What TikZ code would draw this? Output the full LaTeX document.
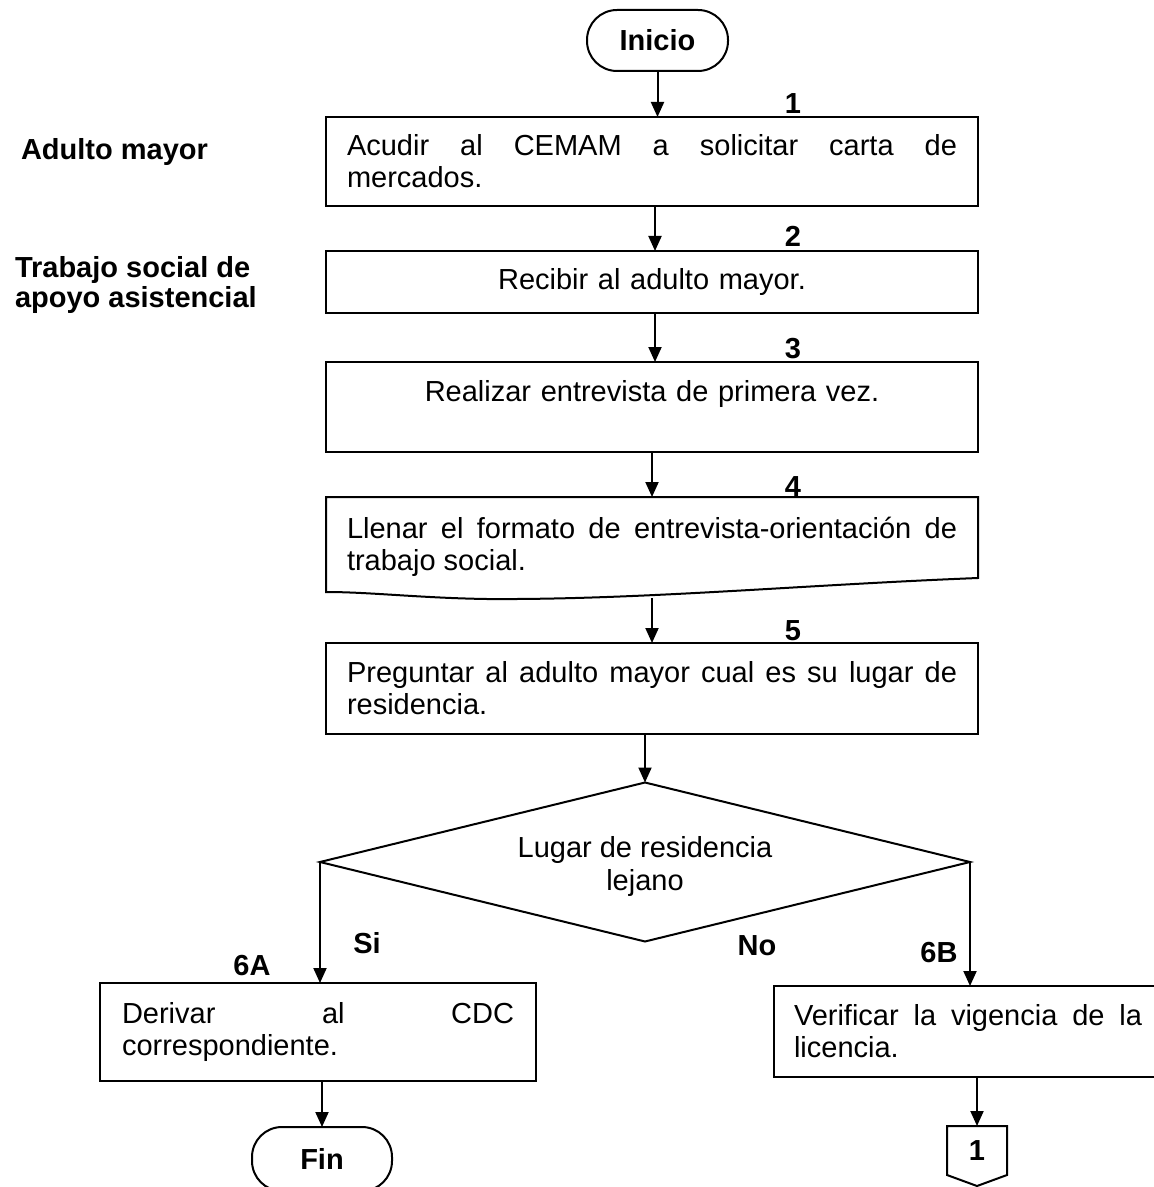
\documentclass[tikz,border=0pt]{standalone}
\usepackage{fontspec}
\setmainfont{Liberation Sans}
\usetikzlibrary{arrows.meta,shapes.geometric,calc}
\hyphenpenalty=10000
\exhyphenpenalty=10000
\begin{document}
\hyphenpenalty=10000
\exhyphenpenalty=10000
\begin{tikzpicture}[x=0.5pt,y=-0.5pt,
  every node/.style={inner sep=0pt, outer sep=0pt, font=\fontsize{14.5}{16}\selectfont},
  lab/.style={font=\fontsize{14.5}{15}\selectfont\bfseries},
  box/.style={draw, line width=1pt, rectangle, text width=305pt, inner xsep=10.5pt,
    align=justify, minimum width=326pt},
  term/.style={draw, line width=1pt, rectangle, rounded corners=15pt,
    font=\fontsize{14.5}{16}\selectfont\bfseries},
  arr/.style={line width=1pt, -{Triangle[length=7.5pt,width=6.5pt]}}]
\clip (0,0) rectangle (1154,1187);
\fill[white] (0,0) rectangle (1154,1187);

% lane labels
\node[lab, anchor=base west] (lane1) at (21,160) {Adulto mayor};
\node[lab, anchor=west, align=left] (lane2) at (15,285) {Trabajo social de\\apoyo asistencial};

% terminals
\node[term, minimum width=70.5pt, minimum height=30.5pt] (ini) at (657.5,40.5) {Inicio};

% process boxes
\node[box, minimum height=44.5pt] (b1) at (652,161.5) {Acudir al CEMAM a solicitar carta de\linebreak mercados.};
\node[box, align=center, minimum height=31pt] (b2) at (652,282) {Recibir al adulto mayor.};
\node[box, align=center, minimum height=45pt] (b3) at (652,407) {Realizar entrevista de primera vez.\\\rule{0pt}{0pt}};
\node[box, draw=none, minimum height=47.5pt] (b4) at (652,544.5) {\rule{0pt}{13.5pt}Llenar el formato de entrevista-orientación de\linebreak trabajo social.};
\draw[line width=1pt] (b4.south west) -- (b4.north west) -- (b4.north east) -- (978,578)
  .. controls (800,585) and (640,600) .. (487,599)
  .. controls (420,598) and (370,592) .. (b4.south west) -- cycle;
\node[box, minimum height=45.5pt] (b5) at (652,688.5) {Preguntar al adulto mayor cual es su lugar de\linebreak residencia.};

% decision
\node[diamond, draw, line width=1pt, aspect=4.09, minimum width=325pt, minimum height=79.5pt,
  align=center, font=\fontsize{14.5}{16.5}\selectfont] (dia) at (645,862) {\rule{0pt}{14.5pt}Lugar de residencia\\lejano};

% branch boxes
\node[box, text width=196pt, inner xsep=11pt, minimum width=218pt, minimum height=49pt] (b6a) at (318,1032) {Derivar al CDC\linebreak correspondiente.};
\node[box, text width=174pt, inner xsep=10pt, minimum width=194pt, minimum height=45.5pt] (b6b) at (968,1031.5) {Verificar la vigencia de la\linebreak licencia.};

\node[term, minimum width=70pt, minimum height=32pt] (fin) at (322,1159) {Fin};
\node[lab, minimum width=30pt, minimum height=24.5pt] (conn) at (977,1150.5) {1};
\draw[line width=1pt] (conn.south west) -- (conn.north west) -- (conn.north east) -- (conn.south east)
  -- ($(conn.south)+(0,11)$) -- cycle;

% step numbers
\node[lab, anchor=base] (n1) at (793,114) {1};
\node[lab, anchor=base] (n2) at (793,247) {2};
\node[lab, anchor=base] (n3) at (793,358) {3};
\node[lab, anchor=base] (n4) at (793,496) {4};
\node[lab, anchor=base] (n5) at (793,640) {5};
\node[lab] (si) at (367,943) {Si};
\node[lab] (no) at (757,946) {No};
\node[lab] (l6a) at (252,966) {6A};
\node[lab] (l6b) at (939,953) {6B};

% connectors
\draw[arr] (ini.south) -- (ini.south |- b1.north);
\draw[arr] ($(b1.south)+(3,0)$) -- ($(b2.north)+(3,0)$);
\draw[arr] ($(b2.south)+(3,0)$) -- ($(b3.north)+(3,0)$);
\draw[arr] (b3.south) -- (b4.north);
\draw[arr] ($(b4.south)+(0,6)$) -- (b5.north);
\draw[arr] (dia.north |- b5.south) -- (dia.north);
\draw[arr] (dia.west) -- (dia.west |- b6a.north);
\draw[arr] (dia.east) -- (dia.east |- b6b.north);
\draw[arr] (fin.north |- b6a.south) -- (fin.north);
\draw[arr] (conn.north |- b6b.south) -- (conn.north);
\end{tikzpicture}
\end{document}
